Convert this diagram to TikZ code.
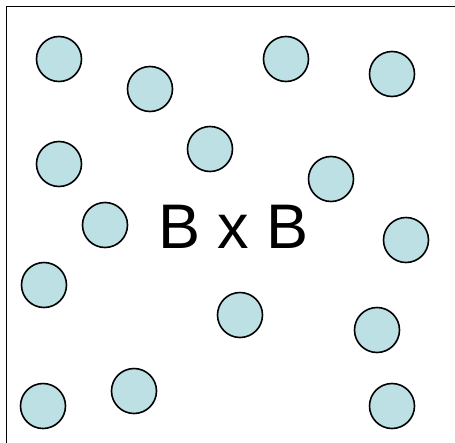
\documentclass[tikz,border=0pt]{standalone}
\usepackage{fontspec}
\setmainfont{Liberation Sans}
\definecolor{ballfill}{RGB}{189,224,228}
\begin{document}
\begin{tikzpicture}[x=1pt,y=-1pt,
  ball/.style={circle,draw=black,line width=1.6pt,fill=ballfill,minimum size=45pt,inner sep=0pt},
  frame/.style={draw=black,line width=1.8pt}]
\useasboundingbox (0,0) rectangle (455,442);
\draw[frame] (6.5,460) -- (6.5,6.5) -- (470,6.5);
\node[ball] (b1) at (59,59) {};
\node[ball] (b2) at (150,89) {};
\node[ball] (b3) at (286,59) {};
\node[ball] (b4) at (392,74) {};
\node[ball] (b5) at (59,164) {};
\node[ball] (b6) at (210,149) {};
\node[ball] (b7) at (331,179) {};
\node[ball] (b8) at (105,225) {};
\node[ball] (b9) at (406,240) {};
\node[ball] (b10) at (44,285) {};
\node[ball] (b11) at (240,315) {};
\node[ball] (b12) at (377,330) {};
\node[ball] (b13) at (43,406) {};
\node[ball] (b14) at (134,391) {};
\node[ball] (b15) at (392,406) {};
\node[font=\fontsize{63}{70}\selectfont,inner sep=0pt,anchor=base] (t) at (233.5,248.5) {B x B};
\end{tikzpicture}
\end{document}
